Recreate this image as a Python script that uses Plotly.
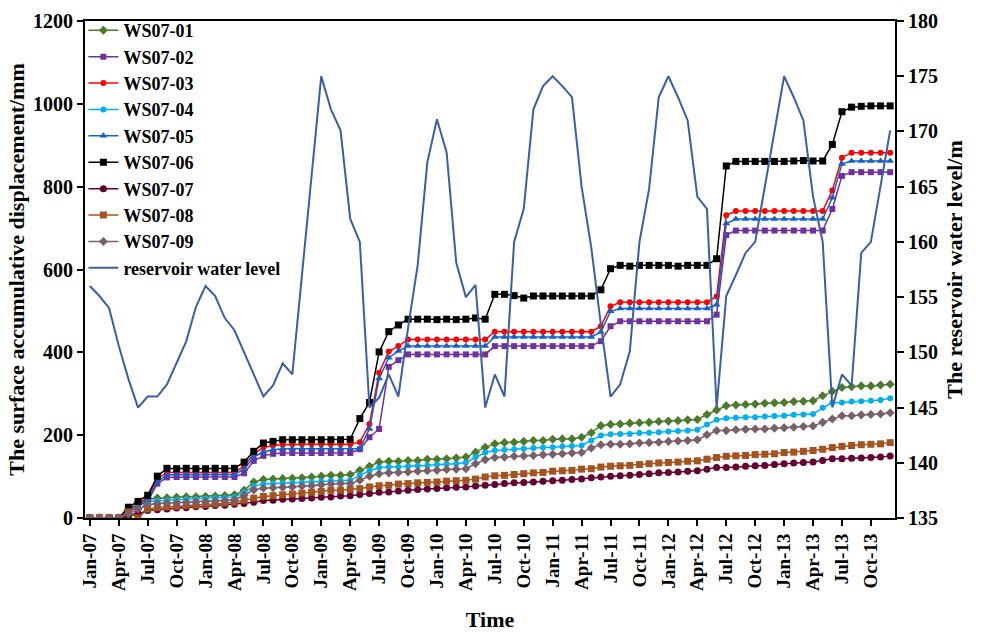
import pandas as pd
import plotly.graph_objects as go

months = pd.date_range("2007-01-01", "2013-12-01", freq="MS").strftime("%b-%y").tolist()
tick_labels = months[::3]

ws01 = [0, 0, 0, 0, 20, 38, 46, 48, 49, 50, 51, 51, 52, 53, 54, 56, 67, 87, 93, 94, 95, 96, 97, 99, 101,
        103, 103, 105, 115, 125, 135, 137, 137, 139, 139, 142, 142, 143, 145, 147, 159, 171, 179,
        182, 183, 185, 187, 187, 190, 191, 191, 195, 206, 223, 226,
        227, 229, 230, 231, 233, 234, 235, 237, 238, 250, 261, 271,
        273, 274, 275, 277, 278, 279, 281, 282, 283, 295, 306, 315, 317, 319, 319, 321, 323]
ws02 = [0, 0, 0, 0, 4, 15, 40, 83, 98, 99, 99, 99, 99, 99, 99, 99, 108, 138, 150, 155, 157,
        157, 157, 157, 157, 157, 157, 157, 166, 195, 215, 365, 381, 395,
        395, 395, 395, 395, 395, 395, 395, 395, 415, 415, 415, 415, 415, 415, 415, 415, 415, 415, 415,
        427, 463, 475, 475, 475, 475, 475, 475, 475, 475, 475, 475, 491, 683,
        694, 694, 694, 694, 694, 694, 694, 694, 694, 694, 746, 826, 835, 835, 835, 835, 835]
ws03 = [0, 0, 0, 0, 18, 33, 48, 95, 110, 110, 110, 110, 110, 110, 110, 110, 125, 155, 170, 175, 177,
        178, 178, 178, 178, 178, 178, 178, 183, 227, 351, 402, 415, 431,
        431, 431, 431, 431, 431, 431, 431, 431, 450, 450, 450, 450, 450, 450, 450, 450, 450, 450, 450,
        463, 511, 521, 521, 521, 521, 521, 521, 521, 521, 521, 521, 535, 731,
        741, 741, 741, 741, 741, 741, 741, 741, 741, 741, 791, 870, 882, 882, 882, 882, 882]
ws04 = [0, 0, 0, 0, 15, 30, 40, 42, 43, 44, 45, 46, 47, 48, 49, 51, 62, 77, 82, 83, 84, 85, 86, 87, 89,
        90, 90, 91, 103, 114, 122, 123, 123, 125, 126, 127, 129, 130, 131, 134, 147, 158, 163,
        165, 166, 167, 169, 170, 171, 173, 174, 175, 187, 199, 202,
        203, 203, 205, 206, 207, 209, 210, 211, 213, 226, 237, 241,
        242, 243, 243, 245, 246, 247, 249, 250, 251, 266, 278, 279, 281, 282, 283, 285, 289]
ws05 = [0, 0, 0, 0, 14, 28, 43, 88, 104, 105, 105, 105, 105, 105, 105, 105, 118, 147, 160, 165, 167,
        167, 167, 167, 167, 167, 167, 167, 168, 215, 337, 387, 403, 415,
        415, 415, 415, 415, 415, 415, 415, 415, 437, 437, 437, 437, 437, 437, 437, 437, 437, 437, 437,
        449, 499, 506, 506, 506, 506, 506, 506, 506, 506, 506, 506, 515, 711,
        722, 722, 722, 722, 722, 722, 722, 722, 722, 722, 773, 855, 862, 862, 862, 862, 862]
ws06 = [0, 0, 0, 0, 26, 40, 55, 101, 120, 119, 120, 119, 119, 120, 119, 120, 135, 161, 181, 185, 189,
        189, 189, 189, 189, 189, 189, 190, 240, 279, 401, 450, 466, 480,
        480, 480, 479, 480, 479, 480, 483, 480, 540, 540, 537, 531, 536, 536, 536, 536, 536, 536, 536,
        551, 602, 610, 608, 610, 610, 610, 610, 608, 610, 610, 610, 626, 850,
        861, 861, 861, 861, 861, 861, 862, 863, 862, 862, 902, 981, 992, 994, 995, 995, 995]
ws07 = [0, 0, 0, 0, 5, 10, 18, 20, 22, 24, 25, 27, 28, 30, 31, 33, 35, 38, 42, 43, 45, 46, 47, 48, 50,
        51, 53, 54, 57, 59, 62, 63, 65, 67, 69, 70, 71, 73, 74, 75, 77, 79, 81,
        83, 85, 86, 87, 89, 90, 91, 93, 94, 97, 99, 101,
        102, 103, 105, 107, 109, 110, 111, 113, 114, 118, 122, 122,
        123, 125, 126, 127, 129, 131, 133, 134, 135, 139, 143, 143, 144, 145, 146, 147, 150]
ws08 = [0, 0, 0, 0, 15, 0, 22, 25, 27, 28, 30, 31, 33, 34, 36, 38, 43, 48, 52, 54, 56, 58, 60, 62, 64,
        67, 67, 69, 71, 75, 78, 79, 82, 83, 85, 86, 87, 89, 90, 91, 94, 99, 102,
        103, 105, 107, 109, 110, 113, 114, 115, 118, 119, 123, 125,
        126, 127, 129, 131, 133, 134, 135, 137, 138, 142, 146, 149,
        150, 151, 153, 154, 155, 158, 159, 161, 163, 166, 170, 173, 175, 177, 178, 179, 182]
ws09 = [0, 0, 0, 0, 10, 22, 32, 35, 36, 37, 38, 39, 40, 41, 42, 44, 55, 68, 72, 73, 74, 75, 77, 78, 80,
        82, 83, 83, 91, 101, 107, 109, 110, 111, 113, 114, 115, 117, 118, 119, 131, 141, 146,
        147, 149, 150, 151, 153, 154, 155, 157, 158, 169, 177, 178,
        178, 179, 181, 182, 183, 185, 186, 187, 189, 201, 211, 211,
        213, 214, 215, 215, 217, 218, 219, 221, 222, 231, 239, 247, 247, 249, 250, 251, 254]
water_level = [156.0, 155.1, 154.0, 150.6, 147.6, 145.0, 146.0, 146.0, 147.1, 149.1, 151.0, 154.1,
               156.0, 155.1, 153.1, 152.0, 150.0, 148.0, 146.0, 147.0, 149.0, 148.0, 157.0, 166.0,
               175.0, 172.0, 170.1, 162.1, 160.0, 145.0, 145.9, 148.0, 146.0, 152.2, 157.9, 167.2,
               171.1, 168.1, 158.1, 155.0, 156.1, 145.0, 148.0, 146.0, 160.0, 163.0, 172.0, 174.1,
               175.0, 174.1, 173.1, 165.0, 159.5, 152.5, 146.0, 147.1, 150.1, 160.0, 164.8, 173.1,
               175.0, 173.1, 171.0, 164.1, 163.0, 145.0, 155.1, 157.0, 159.0, 160.0, 165.0, 169.9,
               175.0, 173.1, 171.0, 164.1, 160.0, 145.0, 148.0, 147.0, 159.0, 160.0, 165.0, 170.1]

series = [
    ("WS07-01", ws01, "#4B7B2B", "diamond", 7),
    ("WS07-02", ws02, "#7030A0", "square", 6),
    ("WS07-03", ws03, "#FF0000", "circle", 6),
    ("WS07-04", ws04, "#00B0F0", "circle", 6),
    ("WS07-05", ws05, "#1560C8", "triangle-up", 7),
    ("WS07-06", ws06, "#000000", "square", 7),
    ("WS07-07", ws07, "#660033", "circle", 7),
    ("WS07-08", ws08, "#A5521E", "square", 7),
    ("WS07-09", ws09, "#7A5E68", "diamond", 7),
]

FONT = "Liberation Serif"
fig = go.Figure()
for name, vals, col, sym, sz in series:
    fig.add_trace(go.Scatter(
        x=months, y=vals, name=name, mode="lines+markers",
        line=dict(color=col, width=1.5),
        marker=dict(symbol=sym, size=sz, color=col),
    ))
fig.add_trace(go.Scatter(
    x=months, y=water_level, name="reservoir water level", mode="lines",
    line=dict(color="#3A5FA3", width=2), yaxis="y2",
))

fig.update_layout(
    width=988, height=632,
    margin=dict(l=85, r=93, t=18, b=114),
    paper_bgcolor="white", plot_bgcolor="white",
    font=dict(family=FONT, size=20, color="black", weight="bold"),
    showlegend=True,
    legend=dict(x=-0.002, y=1.018, xanchor="left", yanchor="top",
                bgcolor="rgba(0,0,0,0)", font=dict(family=FONT, size=18, weight="bold"),
                tracegroupgap=0, itemwidth=30),
    xaxis=dict(
        type="category", categoryorder="array", categoryarray=months,
        range=[-0.5, len(months) - 0.5], automargin=False,
        tickmode="array", tickvals=tick_labels, ticktext=tick_labels,
        tickangle=-90, ticks="outside", ticklen=6, tickwidth=2, tickcolor="black",
        showline=True, linecolor="black", linewidth=2, mirror=True,
        showgrid=False, zeroline=False,
        tickfont=dict(family=FONT, size=19, weight="bold"),
        title=dict(text="Time", font=dict(family=FONT, size=22, weight="bold"), standoff=24),
    ),
    yaxis=dict(
        range=[0, 1200], tickvals=[0, 200, 400, 600, 800, 1000, 1200], automargin=False,
        ticks="outside", ticklen=6, tickwidth=2, tickcolor="black",
        showline=True, linecolor="black", linewidth=2,
        showgrid=False, zeroline=False,
        tickfont=dict(family=FONT, size=20, weight="bold"),
        title=dict(text="The surface accumulative displacement/mm",
                   font=dict(family=FONT, size=22, weight="bold"), standoff=2),
    ),
    yaxis2=dict(
        range=[135, 180], tickvals=list(range(135, 181, 5)), automargin=False,
        overlaying="y", side="right",
        ticks="outside", ticklen=7, tickwidth=2, tickcolor="black",
        showline=True, linecolor="black", linewidth=2,
        showgrid=False, zeroline=False,
        tickfont=dict(family=FONT, size=20, weight="bold"),
        title=dict(text="The reservoir water level/m",
                   font=dict(family=FONT, size=22, weight="bold"), standoff=10),
    ),
)

fig.write_html("out.html")
